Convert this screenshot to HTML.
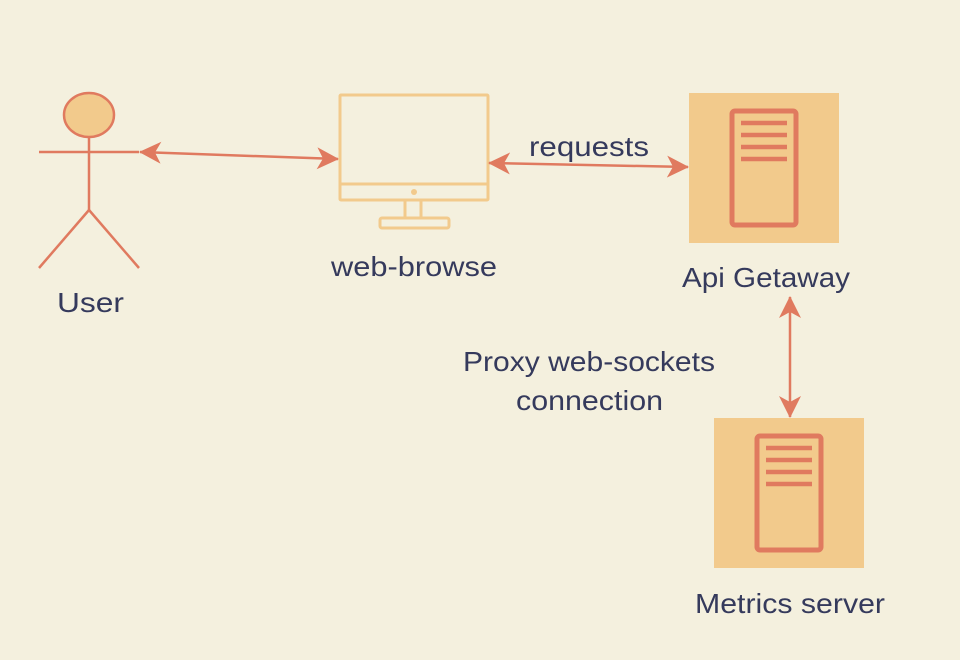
<!DOCTYPE html>
<html><head><meta charset="utf-8"><style>
html,body{margin:0;padding:0;background:#f4f0de;}
svg{display:block}
text{font-family:"Liberation Sans",Arial,sans-serif;font-size:28px;fill:#353a5c}
</style></head><body>
<svg width="960" height="660" viewBox="0 0 960 660" xmlns="http://www.w3.org/2000/svg">
<rect width="960" height="660" fill="#f4f0de"/>
<defs>
<marker id="a" viewBox="0 0 22 22" refX="21" refY="11" markerWidth="22" markerHeight="22" markerUnits="userSpaceOnUse" orient="auto-start-reverse">
<path d="M0,0 L22,11 L0,22 L6,11 Z" fill="#e07a5f"/>
</marker>
</defs>
<g stroke="#e07a5f" stroke-width="2.5" fill="none">
<ellipse cx="89" cy="115" rx="25" ry="22" fill="#f2ca8c"/>
<line x1="89" y1="137" x2="89" y2="210"/>
<line x1="39" y1="152" x2="139" y2="152"/>
<line x1="89" y1="210" x2="39" y2="268"/>
<line x1="89" y1="210" x2="139" y2="268"/>
</g>
<g stroke="#f2ca8c" stroke-width="3" fill="none" stroke-linejoin="round">
<rect x="340" y="95" width="148" height="105" rx="1"/>
<line x1="340" y1="184" x2="488" y2="184"/>
<rect x="380" y="218" width="69" height="10" rx="2"/>
<line x1="405" y1="200" x2="405" y2="218"/>
<line x1="421" y1="200" x2="421" y2="218"/>
</g>
<circle cx="414" cy="192" r="3" fill="#f2ca8c"/>
<g id="srv">
<rect x="689" y="93" width="150" height="150" fill="#f2ca8c"/>
<rect x="732" y="111" width="64" height="114" rx="3" fill="none" stroke="#e07a5f" stroke-width="5"/>
<g stroke="#e07a5f" stroke-width="4.5">
<line x1="741" y1="123" x2="787" y2="123"/>
<line x1="741" y1="135" x2="787" y2="135"/>
<line x1="741" y1="147" x2="787" y2="147"/>
<line x1="741" y1="159" x2="787" y2="159"/>
</g>
</g>
<use href="#srv" transform="translate(25,325)"/>
<g stroke="#e07a5f" stroke-width="2.5" fill="none">
<line x1="140" y1="152" x2="338" y2="159" marker-start="url(#a)" marker-end="url(#a)"/>
<line x1="489" y1="163" x2="688" y2="167" marker-start="url(#a)" marker-end="url(#a)"/>
<line x1="790" y1="297" x2="790" y2="417" marker-start="url(#a)" marker-end="url(#a)"/>
</g>
<text x="57" y="312" textLength="67" lengthAdjust="spacingAndGlyphs">User</text>
<text x="331" y="276" textLength="166" lengthAdjust="spacingAndGlyphs">web-browse</text>
<text x="529" y="156" textLength="120" lengthAdjust="spacingAndGlyphs">requests</text>
<text x="682" y="287" textLength="168" lengthAdjust="spacingAndGlyphs">Api Getaway</text>
<text x="463" y="371" textLength="252" lengthAdjust="spacingAndGlyphs">Proxy web-sockets</text>
<text x="516" y="410" textLength="147" lengthAdjust="spacingAndGlyphs">connection</text>
<text x="695" y="613" textLength="190" lengthAdjust="spacingAndGlyphs">Metrics server</text>
</svg>
</body></html>
